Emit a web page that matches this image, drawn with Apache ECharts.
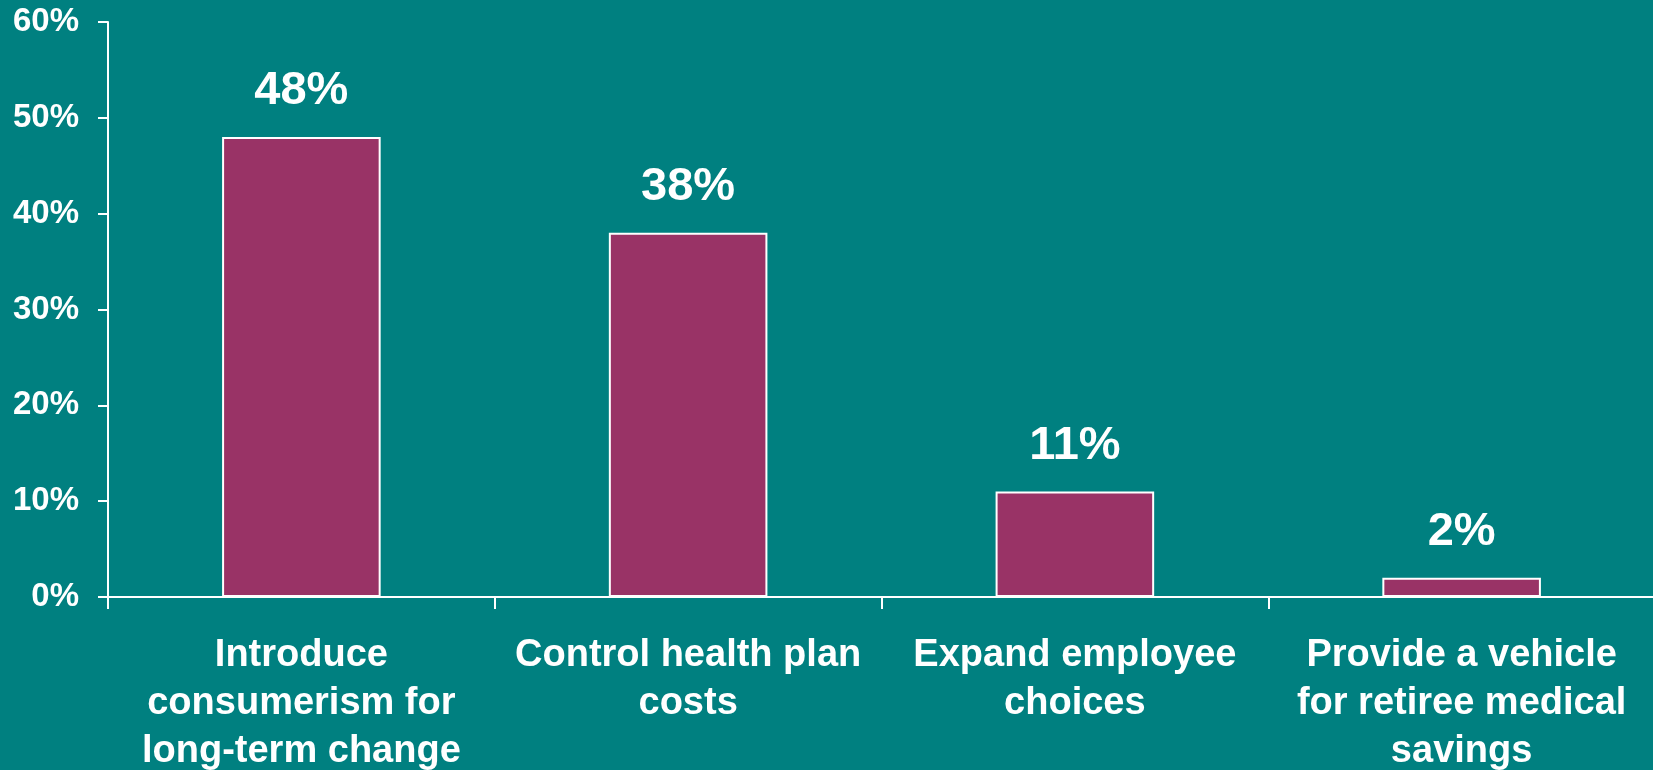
<!DOCTYPE html>
<html>
<head>
<meta charset="utf-8">
<script src="https://cdn.jsdelivr.net/npm/echarts@6/dist/echarts.min.js"></script>
<style>
  html, body { margin: 0; padding: 0; background: #008080; }
  #chart { width: 1653px; height: 770px; }
</style>
</head>
<body>
<div id="chart"></div>
<script>
// Reasons for offering a consumer-driven health plan (share of respondents)
const categories = [
  'Introduce\nconsumerism for\nlong-term change',
  'Control health plan\ncosts',
  'Expand employee\nchoices',
  'Provide a vehicle\nfor retiree medical\nsavings'
];
const shares = [48, 38, 11, 2];
const yTicks = { min: 0, max: 60, interval: 10 };

const chart = echarts.init(document.getElementById('chart'), null, { renderer: 'canvas' });

chart.setOption({
  backgroundColor: '#008080',
  animation: false,
  grid: { left: 108, right: -2, top: 22, bottom: 173, containLabel: false, outerBoundsMode: 'none' },
  xAxis: {
    type: 'category',
    data: categories,
    boundaryGap: true,
    axisLine: { lineStyle: { color: '#ffffff', width: 2 } },
    axisTick: { show: true, length: 12, alignWithLabel: false, lineStyle: { color: '#ffffff', width: 2 } },
    axisLabel: {
      color: '#ffffff',
      fontFamily: '"Liberation Sans", Arial, sans-serif',
      fontWeight: 'bold',
      fontSize: 38,
      lineHeight: 48,
      margin: 35,
      interval: 0
    }
  },
  yAxis: {
    type: 'value',
    min: yTicks.min,
    max: yTicks.max,
    interval: yTicks.interval,
    splitLine: { show: false },
    axisLine: { show: true, lineStyle: { color: '#ffffff', width: 2 } },
    axisTick: { show: true, length: 10, lineStyle: { color: '#ffffff', width: 2 } },
    axisLabel: {
      color: '#ffffff',
      fontFamily: '"Liberation Sans", Arial, sans-serif',
      fontWeight: 'bold',
      fontSize: 33,
      margin: 29,
      formatter: v => v + '%'
    }
  },
  series: [{
    type: 'bar',
    data: shares,
    barWidth: '41%',
    itemStyle: { color: '#993366', borderColor: '#ffffff', borderWidth: 2 },
    label: {
      show: true,
      position: 'top',
      distance: 22,
      color: '#ffffff',
      fontFamily: '"Liberation Sans", Arial, sans-serif',
      fontWeight: 'bold',
      fontSize: 47,
      formatter: p => p.value + '%'
    }
  }]
});
</script>
</body>
</html>
